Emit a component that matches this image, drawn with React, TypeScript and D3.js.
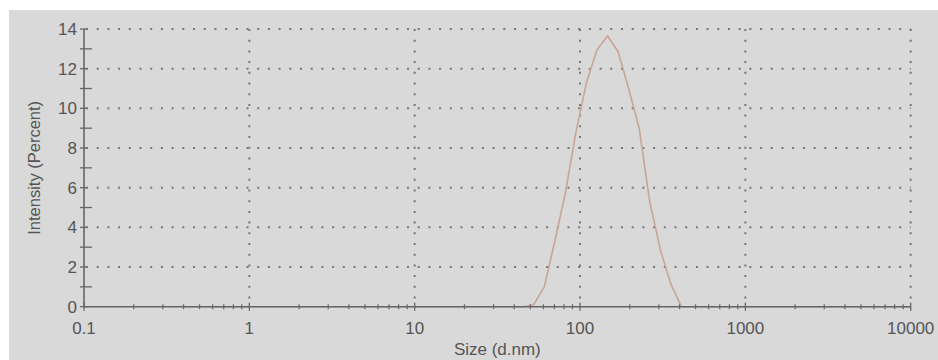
import React from "react";
import * as d3 from "d3";

// Size bins (d.nm) and intensity (%)
const sizeNm = [0.4, 45.4, 52.5, 60.8, 70.4, 81.6, 94.5, 109.4, 126.7, 146.8, 170.0, 196.8, 227.9, 263.9, 305.6, 354.0, 410.0, 474.7, 10000];
const intensity = [0, 0, 0.1, 1.0, 3.3, 5.75, 8.8, 11.3, 12.95, 13.65, 12.85, 11.0, 9.0, 5.3, 2.9, 1.15, 0, 0, 0];

const xTickValues = [0.1, 1, 10, 100, 1000, 10000];
const xTickLabels = ["0.1", "1", "10", "100", "1000", "10000"];
const yTickValues = [0, 2, 4, 6, 8, 10, 12, 14];
const xLabel = "Size (d.nm)";
const yLabel = "Intensity (Percent)";

const W = 938;
const H = 360;
const left = 84;
const right = 910.7;
const top = 29;
const bottom = 306.7;

export default function App() {
  const x = d3.scaleLog().domain([0.1, 10000]).range([left, right]);
  const y = d3.scaleLinear().domain([0, 14]).range([bottom, top]);

  const pts: [number, number][] = sizeNm.map((s, i) => [s, intensity[i]]);
  const line = d3
    .line<[number, number]>()
    .x((d) => x(d[0]))
    .y((d) => y(d[1]));

  // minor x ticks
  const minorX: number[] = [];
  for (let e = -1; e < 4; e++) {
    for (let k = 2; k <= 9; k++) minorX.push(k * Math.pow(10, e));
  }
  const yInts = d3.range(0, 15);

  const gridColor = "#777";
  const dash = "2,8.7";
  const axisColor = "#666";
  const textColor = "#555";
  const font = "'Liberation Sans', Arial, sans-serif";

  return (
    <svg
      width={W}
      height={H}
      style={{ position: "fixed", left: 0, top: 0, display: "block" }}
    >
      <rect x={0} y={0} width={W} height={H} fill="#ffffff" />
      <rect x={9} y={10} width={W - 9} height={H - 10} fill="#d9d9d9" />

      {/* horizontal dotted grid */}
      {yTickValues
        .filter((v) => v > 0)
        .map((v) => (
          <line
            key={"hg" + v}
            x1={left + 2}
            x2={right}
            y1={y(v)}
            y2={y(v)}
            stroke={gridColor}
            strokeWidth={2}
            strokeDasharray={dash}
          />
        ))}
      {/* vertical dotted grid */}
      {xTickValues
        .filter((v) => v > 0.1)
        .map((v) => (
          <line
            key={"vg" + v}
            x1={x(v)}
            x2={x(v)}
            y1={top}
            y2={bottom}
            stroke={gridColor}
            strokeWidth={2}
            strokeDasharray={dash}
          />
        ))}

      {/* data curve */}
      <path
        d={line(pts) || ""}
        fill="none"
        stroke="#c9a594"
        strokeWidth={1.6}
        strokeLinejoin="round"
      />

      {/* axes */}
      <line x1={left} x2={left} y1={top} y2={bottom} stroke={axisColor} strokeWidth={1.6} />
      <line x1={left} x2={right} y1={bottom} y2={bottom} stroke={axisColor} strokeWidth={1.6} />

      {/* y ticks */}
      {yInts.map((v) => (
        <line
          key={"yt" + v}
          x1={left - 4}
          x2={v % 2 === 0 ? left + 3 : left + 8}
          y1={y(v)}
          y2={y(v)}
          stroke={axisColor}
          strokeWidth={1.3}
        />
      ))}
      {/* x ticks */}
      {minorX.map((v, i) => (
        <line
          key={"xm" + i}
          x1={x(v)}
          x2={x(v)}
          y1={bottom - 2.5}
          y2={bottom + 2.5}
          stroke={axisColor}
          strokeWidth={1.2}
        />
      ))}
      {xTickValues.map((v) => (
        <line
          key={"xt" + v}
          x1={x(v)}
          x2={x(v)}
          y1={bottom - 4}
          y2={bottom + 4}
          stroke={axisColor}
          strokeWidth={1.3}
        />
      ))}

      {/* tick labels */}
      {yTickValues.map((v) => (
        <text
          key={"yl" + v}
          x={left - 7}
          y={y(v)}
          dy="0.36em"
          textAnchor="end"
          fontFamily={font}
          fontSize={17}
          fill={textColor}
        >
          {v}
        </text>
      ))}
      {xTickValues.map((v, i) => (
        <text
          key={"xl" + v}
          x={x(v)}
          y={334}
          textAnchor="middle"
          fontFamily={font}
          fontSize={17}
          fill={textColor}
        >
          {xTickLabels[i]}
        </text>
      ))}

      {/* axis titles */}
      <text
        x={(left + right) / 2}
        y={355}
        textAnchor="middle"
        fontFamily={font}
        fontSize={17}
        fill={textColor}
      >
        {xLabel}
      </text>
      <text
        transform={`translate(40, ${(top + bottom) / 2}) rotate(-90)`}
        textAnchor="middle"
        fontFamily={font}
        fontSize={16.5}
        fill={textColor}
      >
        {yLabel}
      </text>
    </svg>
  );
}
